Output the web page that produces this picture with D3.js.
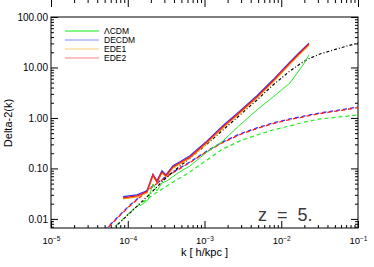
<!DOCTYPE html>
<html lang="en">
<head>
<meta charset="UTF-8">
<title>Delta-2(k) at z = 5</title>
<style>
  body { margin: 0; background: #fff; }
  svg { font-family: "Liberation Sans", Arial, sans-serif; }
  .frame { fill: none; stroke: #000; stroke-width: 1px; }
  .tick line { stroke: #000; }
  .curve { fill: none; }
</style>
<script src="https://cdn.jsdelivr.net/npm/d3@7"></script>
</head>
<body>
<script>
// values: k [h/kpc] and Delta^2(k)
var kSolid = [8.7e-5, 1.32e-4, 1.78e-4, 2.13e-4, 2.40e-4, 2.79e-4, 3.15e-4, 3.89e-4, 4.80e-4,
              6.47e-4, 1.08e-3, 1.74e-3, 2.90e-3, 4.83e-3, 7.82e-3, 1.30e-2, 1.75e-2, 2.30e-2];
var dDecdm = [0.0275, 0.0300, 0.0360, 0.0770, 0.0570, 0.0900, 0.0745, 0.113, 0.136,
              0.178, 0.352, 0.700, 1.38, 2.75, 5.70, 12.9, 20.3, 30.4];
var dEde1  = [0.0250, 0.0272, 0.0328, 0.0715, 0.0518, 0.0815, 0.0680, 0.102, 0.123,
              0.161, 0.318, 0.630, 1.25, 2.48, 5.15, 11.7, 18.5, 27.8];
var dEde2  = [0.0261, 0.0285, 0.0343, 0.0743, 0.0541, 0.0853, 0.0710, 0.107, 0.129,
              0.169, 0.335, 0.664, 1.315, 2.61, 5.41, 12.3, 19.4, 29.2];

var kLcdm = [1.445e-4, 1.84e-4, 2.13e-4, 2.40e-4, 2.79e-4, 3.24e-4, 4.52e-4, 6.47e-4,
             1.08e-3, 1.74e-3, 2.90e-3, 4.83e-3, 7.82e-3, 1.30e-2, 1.92e-2, 2.30e-2];
var dLcdm = [0.0181, 0.0238, 0.0493, 0.0358, 0.0516, 0.0565, 0.0815, 0.112,
             0.212, 0.351, 0.727, 1.44, 2.61, 4.93, 11.2, 17.7];

// black dash-dot reference curve
var kRef = [6.24e-5, 1.069e-4, 1.95e-4, 3.05e-4, 4.80e-4, 6.47e-4, 1.08e-3, 1.74e-3, 2.90e-3,
            4.83e-3, 7.82e-3, 1.30e-2, 1.75e-2, 2.23e-2, 3.20e-2, 5.82e-2, 0.1];
var dRef = [0.00605, 0.01315, 0.0313, 0.0619, 0.112, 0.161, 0.305, 0.578, 1.146,
            2.27, 4.50, 8.53, 11.7, 14.7, 18.5, 24.3, 30.5];

// dashed (linear) curves
var kLinDe = [4.34e-5, 6.43e-5, 1.007e-4, 1.95e-4, 3.55e-4, 6.47e-4, 1.08e-3, 1.74e-3,
              2.90e-3, 4.83e-3, 7.82e-3, 1.30e-2, 2.04e-2, 3.20e-2, 5.82e-2, 0.1];
var dLinDecdm = [0.00482, 0.00873, 0.0173, 0.0411, 0.0778, 0.1345, 0.222, 0.335,
                 0.482, 0.634, 0.796, 0.955, 1.096, 1.256, 1.44, 1.65];
var dLinEde2  = [0.00470, 0.00850, 0.0168, 0.0400, 0.0757, 0.131, 0.216, 0.326,
                 0.469, 0.617, 0.775, 0.930, 1.067, 1.223, 1.40, 1.60];
var kLinL = [5.21e-5, 7.92e-5, 1.24e-4, 1.95e-4, 3.55e-4, 6.47e-4, 1.08e-3, 1.74e-3,
             2.90e-3, 4.83e-3, 7.82e-3, 1.30e-2, 2.04e-2, 3.20e-2, 5.82e-2, 0.1];
var dLinLcdm = [0.00482, 0.00873, 0.01652, 0.0273, 0.0493, 0.0853, 0.147, 0.243,
                0.351, 0.460, 0.578, 0.695, 0.834, 0.955, 1.047, 1.146];

var legendNames = ["\u039bCDM", "DECDM", "EDE1", "EDE2"];
var colours = ["#22ee22", "#2a2aff", "#ffa500", "#ff1a1a"];
var xTicks = [1e-5, 1e-4, 1e-3, 1e-2, 1e-1];
var yTicks = [0.01, 0.1, 1, 10, 100];

var W = 374, H = 267;
var m = {top: 17, right: 16, bottom: 39, left: 51};

var x = d3.scaleLog().domain([1e-5, 1e-1]).range([m.left, W - m.right]);
var y = d3.scaleLog().domain([0.0066, 100]).range([H - m.bottom, m.top]);

var svg = d3.select("body").append("svg")
    .attr("width", W).attr("height", H);

svg.append("clipPath").attr("id", "plot")
  .append("rect")
    .attr("x", m.left).attr("y", m.top)
    .attr("width", W - m.left - m.right).attr("height", H - m.top - m.bottom);

// minor ticks: 2..9 of every decade
var xMinor = [], yMinor = [];
[-5, -4, -3, -2].forEach(function(e) {
  for (var i = 2; i < 10; i++) xMinor.push(i * Math.pow(10, e));
});
[-3, -2, -1, 0, 1].forEach(function(e) {
  for (var i = 2; i < 10; i++) {
    var v = i * Math.pow(10, e);
    if (v >= 0.0066 && v <= 100) yMinor.push(v);
  }
});

function ticks(axis, pos, vals, len, fmt, pad) {
  var g = svg.append("g").attr("transform", pos)
    .call(axis.tickValues(vals).tickSizeInner(-len).tickSizeOuter(0)
              .tickPadding(pad || 3).tickFormat(fmt || ""));
  g.select(".domain").remove();
  return g;
}

var bottom = "translate(0," + (H - m.bottom) + ")", top = "translate(0," + m.top + ")";
var left = "translate(" + m.left + ",0)", right = "translate(" + (W - m.right) + ",0)";

var gx = ticks(d3.axisBottom(x), bottom, xTicks, 7, d3.format(".0e"), 9);
ticks(d3.axisBottom(x), bottom, xMinor, 3);
ticks(d3.axisTop(x), top, xTicks, 7);
ticks(d3.axisTop(x), top, xMinor, 3);
var gy = ticks(d3.axisLeft(y), left, yTicks, 7, d3.format(".2f"), 3);
ticks(d3.axisLeft(y), left, yMinor, 3);
ticks(d3.axisRight(y), right, yTicks, 7);
ticks(d3.axisRight(y), right, yMinor, 3);

gy.selectAll("text").attr("font-size", 10).attr("fill", "#000").attr("font-family", null);

// x labels as 10 with a superscript exponent
gx.selectAll("text").attr("font-size", 9.5).attr("fill", "#000").attr("font-family", null)
  .each(function(d) {
    var t = d3.select(this).text("10");
    t.append("tspan").attr("dy", "-0.45em").attr("font-size", 6.5)
      .text("\u2212" + Math.round(-Math.log10(d)));
  });

svg.append("rect").attr("class", "frame")
  .attr("x", m.left).attr("y", m.top)
  .attr("width", W - m.left - m.right).attr("height", H - m.top - m.bottom);

var line = d3.line()
  .x(function(d) { return x(d[0]); })
  .y(function(d) { return y(d[1]); });

function curve(ks, ds, colour, width, dash, offset) {
  svg.append("path")
    .datum(d3.zip(ks, ds))
    .attr("class", "curve")
    .attr("clip-path", "url(#plot)")
    .attr("stroke", colour)
    .attr("stroke-width", width)
    .attr("stroke-dasharray", dash || null)
    .attr("stroke-dashoffset", offset || 0)
    .attr("d", line);
}

// dashed curves
curve(kLinL, dLinLcdm, colours[0], 1.2, "4,3");
curve(kLinDe, dLinDecdm, colours[1], 1.3, "4,3");
curve(kLinDe, dLinEde2, colours[3], 1.3, "4,3", 2);

// dash-dot reference
curve(kRef, dRef, "#000", 1.2, "3,2,1,2");

// solid curves
curve(kLcdm, dLcdm, colours[0], 1);
curve(kSolid, dDecdm, colours[1], 1.2);
curve(kSolid, dEde1, colours[2], 1.2);
curve(kSolid, dEde2, colours[3], 1.2);

// legend
var leg = svg.append("g").selectAll("g")
  .data(legendNames).enter().append("g")
  .attr("transform", function(d, i) { return "translate(65," + [31, 40, 49, 58][i] + ")"; });
leg.append("line")
  .attr("x1", 0).attr("x2", 34)
  .attr("stroke", function(d, i) { return colours[i]; })
  .attr("stroke-opacity", 0.55)
  .attr("stroke-width", function(d, i) { return i === 0 ? 1.8 : 1; });
leg.append("text")
  .attr("x", 39).attr("dy", "0.33em")
  .attr("font-size", 8.5)
  .text(function(d) { return d; });

// titles
svg.append("text")
  .attr("x", (m.left + W - m.right) / 2).attr("y", 256)
  .attr("text-anchor", "middle").attr("font-size", 11)
  .style("white-space", "pre")
  .text("k [ h/kpc ]");

svg.append("text")
  .attr("transform", "translate(12,123) rotate(-90)")
  .attr("text-anchor", "middle").attr("font-size", 11)
  .text("Delta-2(k)");

svg.append("text")
  .attr("x", 258).attr("y", 221)
  .attr("font-size", 18).attr("fill", "#3a3a3a")
  .style("white-space", "pre")
  .text("z  =  5.");
</script>
</body>
</html>
